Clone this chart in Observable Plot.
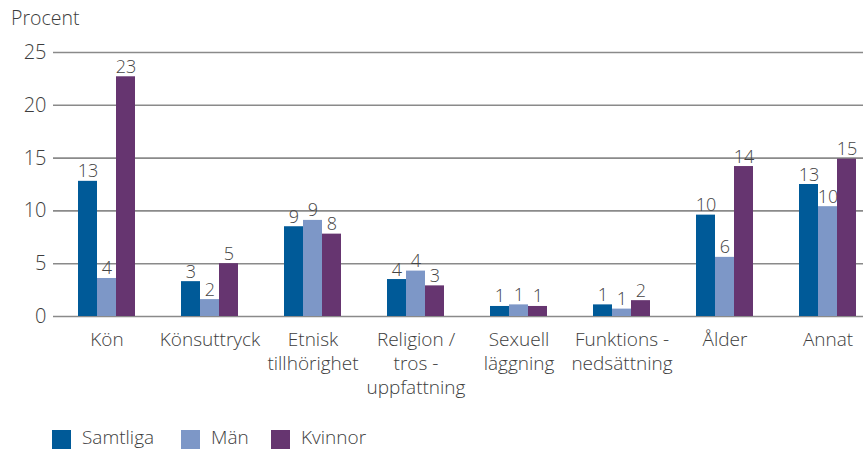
<!DOCTYPE html>
<html>
<head>
<meta charset="utf-8">
<script src="https://cdn.jsdelivr.net/npm/d3@7"></script>
<script src="https://cdn.jsdelivr.net/npm/@observablehq/plot@0.6"></script>
<style>
  html, body { margin: 0; padding: 0; background: #fff; }
  #wrap { position: relative; width: 863px; height: 450px; font-family: "Open Sans", Lato, sans-serif; font-weight: 300; color: #3d3d3d; overflow: hidden; }
  #ylabel { position: absolute; left: 11px; top: 6px; font-size: 19.5px; line-height: 24px; }
  #chart { position: absolute; left: 0; top: 35px; }
  #legend { position: absolute; left: 0; top: 427px; width: 863px; height: 20px; font-size: 19px; line-height: 20px; }
  .item { position: absolute; top: 0; display: flex; align-items: center; }
  .sw { width: 19px; height: 19px; margin-right: 11px; transform: translateY(2px); }
</style>
</head>
<body>
<div id="wrap">
  <div id="ylabel">Procent</div>
  <div id="chart"></div>
  <div id="legend"></div>
</div>
<script>
const categories = ["Kön", "Könsuttryck", "Etnisk\ntillhörighet", "Religion /\ntros -\nuppfattning", "Sexuell\nläggning", "Funktions -\nnedsättning", "Ålder", "Annat"];
const series = ["Samtliga", "Män", "Kvinnor"];
const colors = ["#005a98", "#7d97c7", "#663570"];
const samtliga = [12.8, 3.3, 8.5, 3.5, 0.95, 1.1, 9.6, 12.5];
const man = [3.6, 1.6, 9.1, 4.3, 1.1, 0.7, 5.6, 10.4];
const kvinnor = [22.7, 5.0, 7.8, 2.9, 0.95, 1.5, 14.2, 14.9];
const samtligaLabels = ["13", "3", "9", "4", "1", "1", "10", "13"];
const manLabels = ["4", "2", "9", "4", "1", "1", "6", "10"];
const kvinnorLabels = ["23", "5", "8", "3", "1", "2", "14", "15"];
const yTicks = [0, 5, 10, 15, 20, 25];

const values = [samtliga, man, kvinnor];
const labels = [samtligaLabels, manLabels, kvinnorLabels];
const rows = [];
categories.forEach((c, i) => series.forEach((s, j) => rows.push({category: c, series: s, value: values[j][i], label: labels[j][i]})));

const BW = 19;
const barMarks = [];
series.forEach((s, j) => {
  const data = rows.filter(d => d.series === s);
  barMarks.push(Plot.barY(data, {x: "category", y: "value", fill: colors[j], insetLeft: BW, insetRight: BW, dx: (j - 1) * BW}));
  barMarks.push(Plot.text(data, {x: "category", y: "value", text: "label", dx: (j - 1) * BW, dy: -4, lineAnchor: "bottom", fontSize: 18, fill: "#444"}));
});

const chart = Plot.plot({
  width: 863,
  height: 365,
  marginLeft: 53,
  marginRight: 0,
  marginTop: 17,
  marginBottom: 84,
  style: {fontFamily: "'Open Sans', Lato, sans-serif", fontWeight: 300, fontSize: "20px", color: "#3d3d3d", background: "#fff"},
  x: {domain: categories, range: [54.5, 878.5], paddingInner: 0.447, paddingOuter: 0.223, align: 0.5, axis: null},
  y: {domain: [0, 25], ticks: yTicks, tickSize: 0, tickPadding: 7, label: null},
  marks: [
    Plot.ruleY(yTicks, {stroke: "#8a8a8a", strokeWidth: 1.6}),
    ...barMarks,
    Plot.text(categories, {x: d => d, y: 0, text: d => d, dy: 13, lineAnchor: "top", lineHeight: 1.25, fontSize: 19, fill: "#3d3d3d"})
  ]
});
document.getElementById("chart").appendChild(chart);

const legendLeft = [52, 181, 271];
const legend = document.getElementById("legend");
series.forEach((s, j) => {
  const item = document.createElement("div");
  item.className = "item";
  item.style.left = legendLeft[j] + "px";
  const sw = document.createElement("div");
  sw.className = "sw";
  sw.style.background = colors[j];
  const t = document.createElement("span");
  t.textContent = s;
  item.appendChild(sw);
  item.appendChild(t);
  legend.appendChild(item);
});
</script>
</body>
</html>
